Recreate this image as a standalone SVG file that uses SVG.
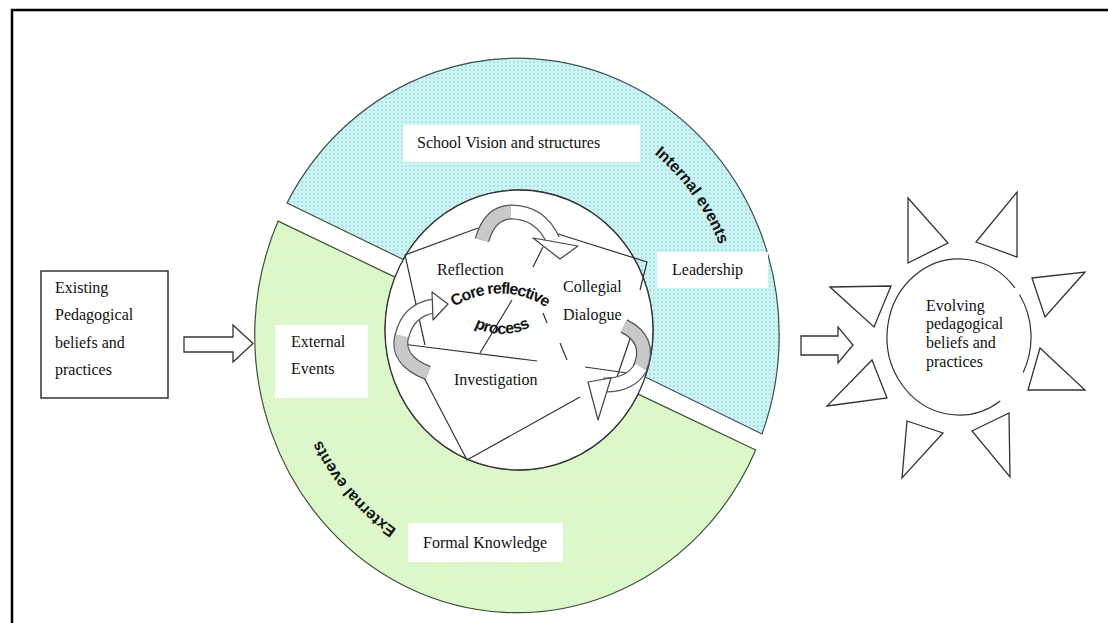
<svg xmlns="http://www.w3.org/2000/svg" width="1108" height="623" viewBox="0 0 1108 623">
<defs>
<pattern id="dotsBlue" width="4" height="4" patternUnits="userSpaceOnUse"><rect width="4" height="4" fill="#cbf4f4"/><circle cx="2" cy="2" r="0.7" fill="#86c4c4"/></pattern>
<pattern id="dotsGreen" width="5" height="5" patternUnits="userSpaceOnUse"><rect width="5" height="5" fill="#d9f8cd"/><circle cx="2.5" cy="2.5" r="1.1" fill="#eef6b0"/></pattern>
<path id="pInternal" d="M 640,142.7 A 221 233 0 0 1 736.2,314.8"/>
<path id="pExternal" d="M 413.7,539.8 A 221 233 0 0 1 304.5,395"/>
<path id="pCore" d="M 450,310 A 84 84 0 0 1 550,310"/>
<path id="pProcess" d="M 466,322 A 60 60 0 0 0 538,322"/>
</defs>
<style>
.lbl{font-family:"Liberation Serif","Times New Roman",serif;font-size:16px;fill:#111}
.curv{font-family:"Liberation Sans",Arial,sans-serif;font-weight:bold;font-size:16px;fill:#151515}
.ln{fill:none;stroke:#333;stroke-width:1.2}
.shape{fill:#fff;stroke:#333;stroke-width:1.3}
.box{fill:#fff}
.band{fill:none;stroke:#555;stroke-width:15;stroke-linecap:butt}
.bandIn{fill:none;stroke:#c9c9c9;stroke-width:12.5;stroke-linecap:butt}
.bandW{fill:none;stroke:#fff;stroke-width:12.5;stroke-linecap:butt}
.head{fill:#fff;stroke:#444;stroke-width:1.2;stroke-linejoin:round}
</style>
<rect width="1108" height="623" fill="#fff"/>
<path d="M12,623 V10 H1108" fill="none" stroke="#000" stroke-width="2.5"/>

<g id="internal-events">
<path d="M 287,203 A 262 277 0 0 1 762,434 L 645.3,377 A 134 140 0 0 0 403.3,259.5 Z" fill="url(#dotsBlue)" stroke="#3c4f4f" stroke-width="1.2"/>
<text class="curv"><textPath href="#pInternal" startOffset="18">Internal events</textPath></text>
</g>
<g id="external-events">
<path d="M 278.1,221.1 L 395,277.1 A 134 140 0 0 0 638.2,394.1 L 755.7,450 A 262 277 0 0 1 278.1,221.1 Z" fill="url(#dotsGreen)" stroke="#3e4f3a" stroke-width="1.2"/>
<text class="curv"><textPath href="#pExternal" startOffset="20">External events</textPath></text>
</g>

<g id="school-vision">
<rect class="box" x="403" y="125" width="237" height="37"/>
<text class="lbl" x="417" y="148">School Vision and structures</text>
</g>
<g id="leadership">
<rect class="box" x="657" y="252" width="111" height="36"/>
<text class="lbl" x="672" y="275">Leadership</text>
</g>
<g id="external-events-box">
<rect class="box" x="275" y="325" width="93" height="73"/>
<text class="lbl" x="291" y="347">External</text>
<text class="lbl" x="291" y="374">Events</text>
</g>
<g id="formal-knowledge">
<rect class="box" x="408" y="523" width="155" height="39"/>
<text class="lbl" x="423" y="548">Formal Knowledge</text>
</g>

<g id="core">
<ellipse cx="519" cy="330" rx="134" ry="140" class="shape" stroke-width="1.2"/>
<path class="ln" d="M425,345 L405,255 L478,228"/>
<path class="ln" d="M555,233 L647,262 L640,290"/>
<path class="ln" d="M633,330 L617,377"/>
<path class="ln" d="M402,344 L537,361"/>
<path class="ln" d="M420,370 L467,460 L580,397"/>
<path class="ln" d="M585,367 L627,373"/>
<path class="ln" d="M480,353 L512,300"/>
<path class="ln" d="M543,247 L533,267 M543,313 L547,323 M560,343 L567,360"/>
<text class="lbl" x="437" y="275">Reflection</text>
<text class="lbl" x="563" y="292">Collegial</text>
<text class="lbl" x="563" y="320">Dialogue</text>
<text class="lbl" x="454" y="385">Investigation</text>
<text class="curv" letter-spacing="-1"><textPath href="#pCore" startOffset="50%" text-anchor="middle">Core reflective</textPath></text>
<text class="curv" letter-spacing="-0.5"><textPath href="#pProcess" startOffset="50%" text-anchor="middle">process</textPath></text>
</g>

<g id="cycle-arrows">
<path class="band" d="M482,240 Q490,212 512,212"/>
<path class="bandIn" d="M482,240 Q490,212 512,212"/>
<path class="band" d="M511,212 Q540,212 553,240"/>
<path class="bandW" d="M511,212 Q540,212 553,240"/>
<polygon class="head" points="533,238 578,246 560,259"/>
<path class="band" d="M428,373 Q395,360 402,335"/>
<path class="bandIn" d="M428,373 Q395,360 402,335"/>
<path class="band" d="M402,336 Q408,310 434,306"/>
<path class="bandW" d="M402,336 Q408,310 434,306"/>
<polygon class="head" points="432,292 433,320 448,304"/>
<path class="band" d="M624,326 Q652,340 640,368"/>
<path class="bandIn" d="M624,326 Q652,340 640,368"/>
<path class="band" d="M641,367 Q630,386 603,385"/>
<path class="bandW" d="M641,367 Q630,386 603,385"/>
<polygon class="head" points="588,382 611,378 598,420"/>
</g>

<g id="existing-beliefs">
<rect x="41" y="271" width="127" height="127" fill="#fff" stroke="#333" stroke-width="1.5"/>
<text class="lbl" x="55" y="293">Existing</text>
<text class="lbl" x="55" y="320">Pedagogical</text>
<text class="lbl" x="55" y="348">beliefs and</text>
<text class="lbl" x="55" y="375">practices</text>
</g>

<g id="evolving-beliefs">
<path class="ln" stroke-width="1.3" d="M1000.3,400.9 A72 78 0 1 1 1014.95,287.9 M1019.4,294.5 A72 78 0 0 1 1023.2,372.4"/>
<polygon class="shape" points="908,198 908,263 948,243"/>
<polygon class="shape" points="1017,192 1017,257 976,242"/>
<polygon class="shape" points="1032,278 1085,272 1045,317"/>
<polygon class="shape" points="1040,348 1028,390 1085,390"/>
<polygon class="shape" points="972,431 1009,413 1010,477"/>
<polygon class="shape" points="907,421 943,433 902,478"/>
<polygon class="shape" points="872,360 887,398 827,406"/>
<polygon class="shape" points="830,287 891,286 874,327"/>
<text class="lbl" x="926" y="311">Evolving</text>
<text class="lbl" x="926" y="329">pedagogical</text>
<text class="lbl" x="926" y="348">beliefs and</text>
<text class="lbl" x="926" y="367">practices</text>
</g>

<g id="connectors">
<polygon class="shape" points="184,337 233,337 233,325 253,343.5 233,362 233,352 184,352"/>
<polygon class="shape" points="801,336 838,336 838,327 853,345 838,363 838,355 801,355"/>
</g>
</svg>
